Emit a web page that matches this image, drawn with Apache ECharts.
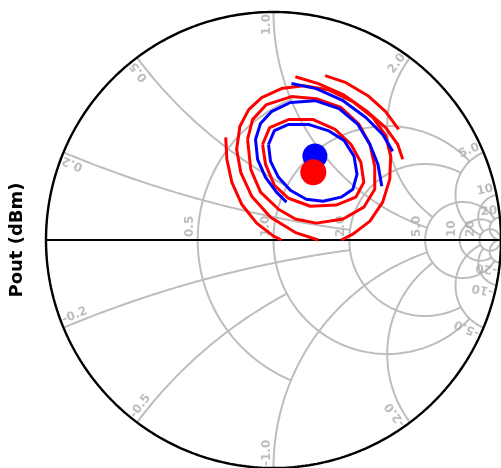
<!DOCTYPE html>
<html><head><meta charset="utf-8">
<script src="https://cdn.jsdelivr.net/npm/echarts@6/dist/echarts.min.js"></script>
<style>html,body{margin:0;padding:0;background:#fff}#c{width:501px;height:468px}</style>
</head><body><div id="c"></div>
<script>
// ---- Smith chart grid ticks (normalized impedance) ----
const resistanceTicks  = [0.5, 1, 2, 5, 10, 20];
const resistanceLimits = [1, 5, 5, 20, 20, Infinity];
const resistanceLabels = ['0.5', '1.0', '2.0', '5.0', '10', '20'];
const reactanceTicks   = [0.2, 0.5, 1, 2, 5, 10, 20];
const reactanceLimits  = [2, 1, 5, 5, 20, 20, Infinity];
const reactanceLabels  = ['0.2', '0.5', '1.0', '2.0', '5.0', '10', '20'];

// ---- contours, as reflection coefficient [re, im] ----
const redContour1 = [[-0.048,0.419],[-0.017,0.493],[0.066,0.528],[0.175,0.528],[0.271,0.485],[0.341,0.419],[0.384,0.341],[0.397,0.253],[0.362,0.188],[0.275,0.153],[0.162,0.148],[0.066,0.183],[0.004,0.240],[-0.035,0.332],[-0.048,0.419]];
const redContour2 = [[-0.114,0.441],[-0.092,0.528],[-0.031,0.594],[0.079,0.629],[0.188,0.620],[0.297,0.581],[0.376,0.507],[0.424,0.419],[0.445,0.323],[0.445,0.223],[0.397,0.144],[0.306,0.092],[0.188,0.074],[0.096,0.092],[0.022,0.135],[-0.057,0.210],[-0.100,0.310],[-0.114,0.441]];
const redContour3 = [[0.197,0],[0.100,0.031],[-0.013,0.100],[-0.096,0.192],[-0.144,0.297],[-0.162,0.397],[-0.148,0.498],[-0.109,0.572],[-0.052,0.624],[0.035,0.664],[0.131,0.677],[0.240,0.659],[0.349,0.607],[0.437,0.537],[0.493,0.459],[0.515,0.367],[0.511,0.266],[0.480,0.166],[0.424,0.083],[0.349,0.026],[0.297,0]];
const redContour4 = [[-0.210,0.450],[-0.205,0.354],[-0.183,0.253],[-0.140,0.157],[-0.074,0.074],[0,0.017],[0.035,0]];
const redContour5 = [[0.096,0.716],[0.197,0.686],[0.306,0.638],[0.406,0.568],[0.493,0.493],[0.546,0.419],[0.568,0.354]];
const redContour6 = [[0.227,0.721],[0.319,0.690],[0.415,0.633],[0.493,0.563],[0.550,0.485]];
const blueContour1 = [[-0.022,0.419],[0.004,0.480],[0.066,0.507],[0.153,0.507],[0.240,0.480],[0.310,0.437],[0.354,0.367],[0.367,0.288],[0.349,0.223],[0.297,0.188],[0.218,0.170],[0.144,0.179],[0.074,0.218],[0.022,0.275],[-0.013,0.345],[-0.022,0.419]];
const blueContour2 = [[0.057,0.166],[0.013,0.210],[-0.035,0.275],[-0.070,0.354],[-0.079,0.441],[-0.057,0.511],[-0.009,0.563],[0.074,0.603],[0.183,0.611],[0.288,0.576],[0.371,0.507],[0.424,0.419],[0.459,0.332],[0.476,0.236]];
const blueContour3 = [[0.079,0.686],[0.188,0.664],[0.306,0.611],[0.406,0.537],[0.480,0.463],[0.524,0.389]];
const blueOptimum = [[0.182, 0.368]];
const redOptimum  = [[0.175, 0.297]];

// ---- helpers ----
function gamma(r, x) {
  const d = (r + 1) * (r + 1) + x * x;
  return [(r * r - 1 + x * x) / d, (2 * x) / d];
}
const N = 240;
function resistanceArc(r, lim) {
  const tmax = lim === Infinity ? Math.PI / 2 - 1e-5 : Math.atan(lim);
  const pts = [];
  for (let i = 0; i <= N; i++) { const t = -tmax + 2 * tmax * i / N; pts.push(gamma(r, Math.tan(t))); }
  return pts;
}
function reactanceArc(x, lim) {
  const smax = lim === Infinity ? Math.PI / 2 - 1e-5 : Math.atan(lim);
  const pts = [];
  for (let i = 0; i <= N; i++) { const s = smax * i / N; pts.push(gamma(Math.tan(s), x)); }
  return pts;
}
const GRID = '#bdbdbd', LBL = '#acacac';
const series = [];
function line(data, color, width, z) {
  series.push({ type: 'line', data, showSymbol: false, symbol: 'none', silent: true, clip: false,
    lineStyle: { color, width }, z: z, animation: false });
}
resistanceTicks.forEach((r, i) => line(resistanceArc(r, resistanceLimits[i]), GRID, 2, 1));
reactanceTicks.forEach((x, i) => { line(reactanceArc(x, reactanceLimits[i]), GRID, 2, 1); line(reactanceArc(-x, reactanceLimits[i]), GRID, 2, 1); });
// outer circle and real axis
const outer = []; for (let i = 0; i <= 360; i++) { const a = i * Math.PI / 180; outer.push([Math.cos(a), Math.sin(a)]); }
line(outer, '#000', 2.4, 3);
line([[-1, 0], [1, 0]], '#000', 2.2, 3);

// labels
const labelData = [];
resistanceTicks.forEach((r, i) => {
  labelData.push({ value: gamma(r, 0), label: { formatter: resistanceLabels[i], rotate: 90, align: 'left', verticalAlign: 'bottom', offset: [3, -2] } });
});
reactanceTicks.forEach((x, i) => {
  [1, -1].forEach(sg => {
    const p = gamma(0, sg * x);
    const th = Math.atan2(p[1], p[0]) * 180 / Math.PI;
    if (sg > 0) labelData.push({ value: p, label: { formatter: reactanceLabels[i], rotate: th, align: 'right', verticalAlign: 'bottom', offset: [-2, -1] } });
    else labelData.push({ value: p, label: { formatter: '-' + reactanceLabels[i], rotate: th + 180, align: 'left', verticalAlign: 'bottom', offset: [2, -1] } });
  });
});
series.push({ type: 'scatter', data: labelData, symbolSize: 0, silent: true, z: 2, animation: false,
  label: { show: true, position: [0, 0], color: LBL, fontSize: 12, fontWeight: 'bold', fontFamily: 'DejaVu Sans' } });

// contours
[redContour4, redContour3, redContour5, redContour6, redContour2, redContour1].forEach(c => line(c, '#ff0000', 3, 5));
[blueContour3, blueContour2, blueContour1].forEach(c => line(c, '#0000ff', 3, 6));
series.push({ type: 'scatter', data: blueOptimum, symbolSize: 25, itemStyle: { color: '#0000ff', opacity: 1 }, z: 7, silent: true, animation: false });
series.push({ type: 'scatter', data: redOptimum, symbolSize: 26, itemStyle: { color: '#ff0000', opacity: 1 }, z: 8, silent: true, animation: false });

const chart = echarts.init(document.getElementById('c'), null, { renderer: 'canvas' });
chart.setOption({
  animation: false,
  grid: { left: 46, top: 12, width: 458, height: 458 },
  xAxis: { type: 'value', min: -1, max: 1, show: false },
  yAxis: { type: 'value', min: -1, max: 1, show: true, name: 'Pout (dBm)', nameLocation: 'middle', nameRotate: 90, nameGap: 20,
    nameTextStyle: { fontSize: 18, fontWeight: 'bold', color: '#000', fontFamily: 'DejaVu Sans' },
    axisLine: { show: false }, axisTick: { show: false }, axisLabel: { show: false }, splitLine: { show: false } },
  series
});
</script></body></html>
